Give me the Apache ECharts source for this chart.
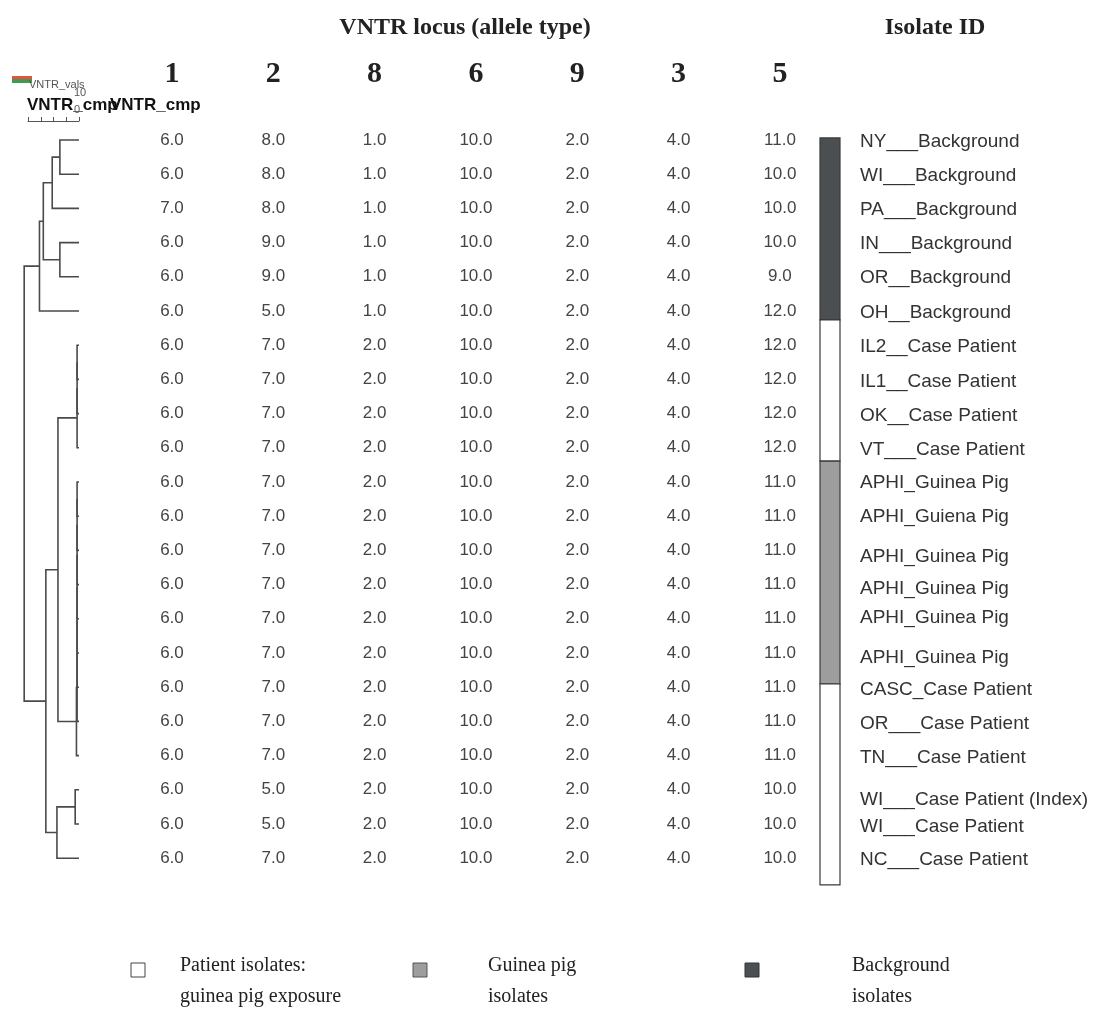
<!DOCTYPE html>
<html>
<head>
<meta charset="utf-8">
<script src="https://cdn.jsdelivr.net/npm/echarts@6/dist/echarts.min.js"></script>
<style>
html, body { margin: 0; padding: 0; background: #fff; }
#chart { width: 1101px; height: 1015px; }
</style>
</head>
<body>
<div id="chart"></div>
<script>
// isolates, top to bottom
var isolateIds = ['NY___Background', 'WI___Background', 'PA___Background', 'IN___Background',
    'OR__Background', 'OH__Background', 'IL2__Case Patient', 'IL1__Case Patient',
    'OK__Case Patient', 'VT___Case Patient', 'APHI_Guinea Pig', 'APHI_Guiena Pig',
    'APHI_Guinea Pig', 'APHI_Guinea Pig', 'APHI_Guinea Pig', 'APHI_Guinea Pig',
    'CASC_Case Patient', 'OR___Case Patient', 'TN___Case Patient',
    'WI___Case Patient (Index)', 'WI___Case Patient', 'NC___Case Patient'];
// where each id label sits, in row units (labels are not exactly on the rows)
var idLabelRows = [0.05, 1.05, 2.05, 3.04, 4.04, 5.06, 6.05, 7.08, 8.07, 9.06, 10.03,
    11.02, 12.19, 13.13, 13.98, 15.15, 16.08, 17.08, 18.07, 19.3, 20.09, 21.05];

// VNTR loci (column order) and allele types
var loci = ['1', '2', '8', '6', '9', '3', '5'];
var locus1 = [6, 6, 7, 6, 6, 6, 6, 6, 6, 6, 6, 6, 6, 6, 6, 6, 6, 6, 6, 6, 6, 6];
var locus2 = [8, 8, 8, 9, 9, 5, 7, 7, 7, 7, 7, 7, 7, 7, 7, 7, 7, 7, 7, 5, 5, 7];
var locus8 = [1, 1, 1, 1, 1, 1, 2, 2, 2, 2, 2, 2, 2, 2, 2, 2, 2, 2, 2, 2, 2, 2];
var locus6 = [10, 10, 10, 10, 10, 10, 10, 10, 10, 10, 10, 10, 10, 10, 10, 10, 10, 10, 10, 10, 10, 10];
var locus9 = [2, 2, 2, 2, 2, 2, 2, 2, 2, 2, 2, 2, 2, 2, 2, 2, 2, 2, 2, 2, 2, 2];
var locus3 = [4, 4, 4, 4, 4, 4, 4, 4, 4, 4, 4, 4, 4, 4, 4, 4, 4, 4, 4, 4, 4, 4];
var locus5 = [11, 10, 10, 10, 9, 12, 12, 12, 12, 12, 11, 11, 11, 11, 11, 11, 11, 11, 11, 10, 10, 10];
var lociValues = [locus1, locus2, locus8, locus6, locus9, locus3, locus5];

// dendrogram merges: ids < 22 are rows, 22+k is the node made by merge k
var mergeLeft = [0, 22, 3, 23, 25, 6, 27, 28, 10, 30, 31, 32, 33, 34, 35, 36, 29, 19, 39, 38, 26];
var mergeRight = [1, 2, 4, 24, 5, 7, 8, 9, 11, 12, 13, 14, 15, 16, 17, 18, 37, 20, 21, 40, 41];
var mergeHeight = [1.5, 2.1, 1.5, 2.8, 3.1, 0.15, 0.15, 0.15, 0.15, 0.15, 0.15, 0.15, 0.15, 0.15,
    0.15, 0.2, 1.65, 0.3, 1.73, 2.6, 4.3];

// colour bar segments, in row units
var groupNames = ['Background', 'Patient', 'Guinea pig', 'Patient'];
var groupStart = [-0.06, 5.26, 9.39, 15.9];
var groupEnd = [5.26, 9.39, 15.9, 21.78];

var groupColor = {'Background': '#4b4f51', 'Patient': '#ffffff', 'Guinea pig': '#9d9d9d'};

// rows span y 140 .. 858
var gridTop = 105.8, gridHeight = 786.6;

function yAxisFor(i) {
    return {type: 'value', gridIndex: i, min: -1, max: 22, inverse: true, show: false};
}

// dendrogram links
var nodeY = isolateIds.map(function (d, i) { return i; });
var nodeH = isolateIds.map(function () { return 0; });
var dendroLinks = [];
for (var k = 0; k < mergeLeft.length; k++) {
    var a = mergeLeft[k], b = mergeRight[k], h = mergeHeight[k];
    dendroLinks.push({coords: [[nodeH[a], nodeY[a]], [h, nodeY[a]], [h, nodeY[b]], [nodeH[b], nodeY[b]]]});
    nodeY.push((nodeY[a] + nodeY[b]) / 2);
    nodeH.push(h);
}

var tableData = [];
lociValues.forEach(function (vals, c) {
    vals.forEach(function (v, r) { tableData.push([c, r, v]); });
});

var barData = groupNames.map(function (g, i) { return [groupStart[i], groupEnd[i], i]; });
var labelData = idLabelRows.map(function (r, i) { return [0, r, i]; });

var serif = '"Liberation Serif", "DejaVu Serif", serif';
var sans = '"Liberation Sans", Arial, sans-serif';

function txt(x, y, text, font, fill, align, valign, extra) {
    var st = {text: text, font: font, fill: fill, align: align, textAlign: align,
        verticalAlign: valign, textVerticalAlign: valign};
    if (extra) { for (var key in extra) st[key] = extra[key]; }
    return {type: 'text', x: x, y: y, silent: true, style: st};
}

var chart = echarts.init(document.getElementById('chart'));
chart.setOption({
    animation: false,
    backgroundColor: '#fff',
    grid: [
        {left: 0, top: gridTop, width: 79, height: gridHeight},
        {left: 121.3, top: gridTop, width: 709.3, height: gridHeight},
        {left: 820, top: gridTop, width: 20, height: gridHeight},
        {left: 860, top: gridTop, width: 230, height: gridHeight},
        {left: 28, top: 100, width: 51, height: 21}
    ],
    xAxis: [
        {type: 'value', gridIndex: 0, min: 0, max: 79 / 12.75, inverse: true, show: false},
        {type: 'category', gridIndex: 1, data: loci, position: 'top',
            axisLine: {show: false}, axisTick: {show: false}, splitLine: {show: false},
            axisLabel: {margin: 17, fontFamily: serif, fontWeight: 'bold', fontSize: 30, color: '#222'}},
        {type: 'value', gridIndex: 2, min: 0, max: 1, show: false},
        {type: 'value', gridIndex: 3, min: 0, max: 1, show: false},
        {type: 'value', gridIndex: 4, min: 0, max: 4, interval: 1, inverse: true, position: 'bottom',
            axisLine: {show: true, lineStyle: {color: '#555', width: 1}},
            axisTick: {show: true, inside: true, length: 4, lineStyle: {color: '#555'}},
            axisLabel: {show: false}, splitLine: {show: false}}
    ],
    yAxis: [yAxisFor(0), yAxisFor(1), yAxisFor(2), yAxisFor(3),
        {type: 'value', gridIndex: 4, show: false}],
    graphic: [
        txt(465, 28, 'VNTR locus (allele type)', 'bold 24px ' + serif, '#222', 'center', 'middle'),
        txt(935, 28, 'Isolate ID', 'bold 24px ' + serif, '#222', 'center', 'middle'),
        {type: 'rect', shape: {x: 12, y: 76, width: 20, height: 3}, style: {fill: '#e4533f'}, silent: true},
        {type: 'rect', shape: {x: 12, y: 79, width: 20, height: 4}, style: {fill: '#3d9b52'}, silent: true},
        txt(29, 85, 'VNTR_vals', '11px ' + sans, '#555', 'left', 'middle'),
        txt(80, 93, '10', '11px ' + sans, '#555', 'center', 'middle'),
        txt(27, 105, 'VNTR_cmp', 'bold 17px ' + sans, '#111', 'left', 'middle'),
        txt(77, 110, '0', '11px ' + sans, '#555', 'center', 'middle'),
        txt(110, 105, 'VNTR_cmp', 'bold 17px ' + sans, '#111', 'left', 'middle'),
        {type: 'rect', shape: {x: 131, y: 963, width: 14, height: 14},
            style: {fill: groupColor['Patient'], stroke: '#444', lineWidth: 1}, silent: true},
        txt(180, 981, 'Patient isolates:\nguinea pig exposure', '20px ' + serif, '#222', 'left', 'middle', {lineHeight: 31}),
        {type: 'rect', shape: {x: 413, y: 963, width: 14, height: 14},
            style: {fill: groupColor['Guinea pig'], stroke: '#555', lineWidth: 1}, silent: true},
        txt(488, 981, 'Guinea pig\nisolates', '20px ' + serif, '#222', 'left', 'middle', {lineHeight: 31}),
        {type: 'rect', shape: {x: 745, y: 963, width: 14, height: 14},
            style: {fill: groupColor['Background'], stroke: '#333', lineWidth: 1}, silent: true},
        txt(852, 981, 'Background\nisolates', '20px ' + serif, '#222', 'left', 'middle', {lineHeight: 31})
    ],
    series: [
        {
            type: 'lines', name: 'VNTR_cmp', coordinateSystem: 'cartesian2d',
            xAxisIndex: 0, yAxisIndex: 0, polyline: true, silent: true,
            lineStyle: {color: '#4a4a4a', width: 1.6, opacity: 1},
            data: dendroLinks
        },
        {
            type: 'custom', name: 'VNTR_vals', xAxisIndex: 1, yAxisIndex: 1, silent: true,
            data: tableData, encode: {x: 0, y: 1},
            renderItem: function (params, api) {
                var p = api.coord([api.value(0), api.value(1)]);
                return {type: 'text', x: p[0], y: p[1], style: {
                    text: api.value(2).toFixed(1), font: '17px ' + sans, fill: '#444',
                    align: 'center', verticalAlign: 'middle'}};
            }
        },
        {
            type: 'custom', name: 'group', xAxisIndex: 2, yAxisIndex: 2, silent: true,
            data: barData, encode: {y: [0, 1]},
            renderItem: function (params, api) {
                var p0 = api.coord([0, api.value(0)]);
                var p1 = api.coord([1, api.value(1)]);
                var g = groupNames[api.value(2)];
                return {type: 'rect', shape: {x: p0[0], y: p0[1], width: p1[0] - p0[0], height: p1[1] - p0[1]},
                    style: {fill: groupColor[g], stroke: '#3a3a3a', lineWidth: 1.2}};
            }
        },
        {
            type: 'custom', name: 'Isolate ID', xAxisIndex: 3, yAxisIndex: 3, silent: true,
            data: labelData, encode: {x: 0, y: 1},
            renderItem: function (params, api) {
                var p = api.coord([0, api.value(1)]);
                return {type: 'text', x: p[0], y: p[1], style: {
                    text: isolateIds[api.value(2)], font: '19px ' + sans, fill: '#333',
                    align: 'left', verticalAlign: 'middle'}};
            }
        }
    ]
});
</script>
</body>
</html>
